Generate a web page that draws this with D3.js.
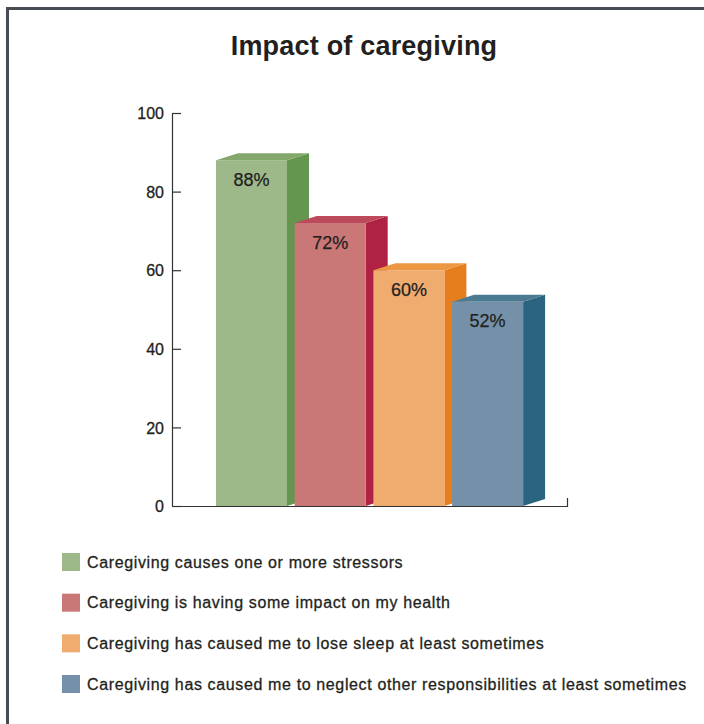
<!DOCTYPE html>
<html><head><meta charset="utf-8">
<script src="https://cdn.jsdelivr.net/npm/d3@7"></script>
<style>body{margin:0;background:#fff;} svg{display:block;}</style>
</head><body>
<script>
const title = "Impact of caregiving";
const categories = [
  "Caregiving causes one or more stressors",
  "Caregiving is having some impact on my health",
  "Caregiving has caused me to lose sleep at least sometimes",
  "Caregiving has caused me to neglect other responsibilities at least sometimes"
];
const values = [88, 72, 60, 52];
const valueLabels = ["88%", "72%", "60%", "52%"];
const yTicks = [0, 20, 40, 60, 80, 100];
const frontColors = ["#9db98a", "#ca7777", "#f0ab6e", "#7491a9"];
const sideColors  = ["#64964f", "#b02243", "#e67e1e", "#2b6480"];
const topColors   = ["#84a86c", "#bd4a5b", "#ec9743", "#4d7a93"];

const W = 704, H = 724;
const FONT = "Liberation Sans, Arial, sans-serif";
const svg = d3.select("body").append("svg").attr("width", W).attr("height", H);

// frame
svg.append("path").attr("d", `M7.5,724 V8.5 H704`).attr("fill","none")
  .attr("stroke","#474c52").attr("stroke-width",3);

svg.append("text").attr("x", 364).attr("y", 55).attr("text-anchor","middle")
  .attr("font-family",FONT).attr("font-weight","bold").attr("letter-spacing",0.2)
  .attr("font-size", 27).attr("fill","#231f20").text(title);

const x0 = 172, x1 = 567;
const y = d3.scaleLinear().domain([0,100]).range([506, 113]);
const x = d3.scaleLinear().domain([0,1]).range([216, 294.7]);
const bw = 71;
const dx = 22, dy = 7;

const axis = d3.axisRight(y).tickValues(yTicks).tickSize(9).tickFormat(d3.format("d"));
const ag = svg.append("g").attr("transform", `translate(${x0},0)`).call(axis);
ag.select(".domain").attr("d", `M9,113.5H0.5V506`).attr("stroke","#333").attr("stroke-width",1.2);
ag.selectAll(".tick line").attr("stroke","#333").attr("stroke-width",1.2);
ag.selectAll(".tick text").attr("x", -8).attr("text-anchor","end").attr("dy","0.36em")
  .attr("font-family",FONT).attr("font-size",16).attr("fill","#231f20")
  .attr("stroke","#231f20").attr("stroke-width",0.3);

// x baseline
svg.append("path").attr("d", `M${x0},506.5 H${x1}.5 V498`).attr("fill","none").attr("stroke","#333").attr("stroke-width",1.2);

const g = svg.append("g");
values.forEach((v, i) => {
  const bx = x(i), by = y(v), b0 = y(0);
  g.append("path").attr("d", `M${bx+bw},${by} L${bx+bw+dx},${by-dy} L${bx+bw+dx},${b0-dy} L${bx+bw},${b0} Z`).attr("fill", sideColors[i]);
  g.append("path").attr("d", `M${bx},${by} L${bx+dx},${by-dy} L${bx+bw+dx},${by-dy} L${bx+bw},${by} Z`).attr("fill", topColors[i]);
  g.append("rect").attr("x", bx).attr("y", by).attr("width", bw).attr("height", b0-by).attr("fill", frontColors[i]);
  g.append("text").attr("x", bx + bw/2).attr("y", by + 25.5).attr("text-anchor","middle")
    .attr("font-family",FONT).attr("font-size",18).attr("fill","#231f20")
    .attr("stroke","#231f20").attr("stroke-width",0.25).text(valueLabels[i]);
});

const legY = d3.scalePoint().domain(d3.range(categories.length)).range([562, 684]);
const lg = svg.append("g");
categories.forEach((c, i) => {
  lg.append("rect").attr("x", 62).attr("y", legY(i)-9).attr("width", 18).attr("height", 18).attr("fill", frontColors[i]);
  lg.append("text").attr("x", 87).attr("y", legY(i)).attr("dy","0.36em")
    .attr("font-family",FONT).attr("font-size",16).attr("letter-spacing",0.63)
    .attr("fill","#231f20").attr("stroke","#231f20").attr("stroke-width",0.3).text(c);
});
</script>
</body></html>
